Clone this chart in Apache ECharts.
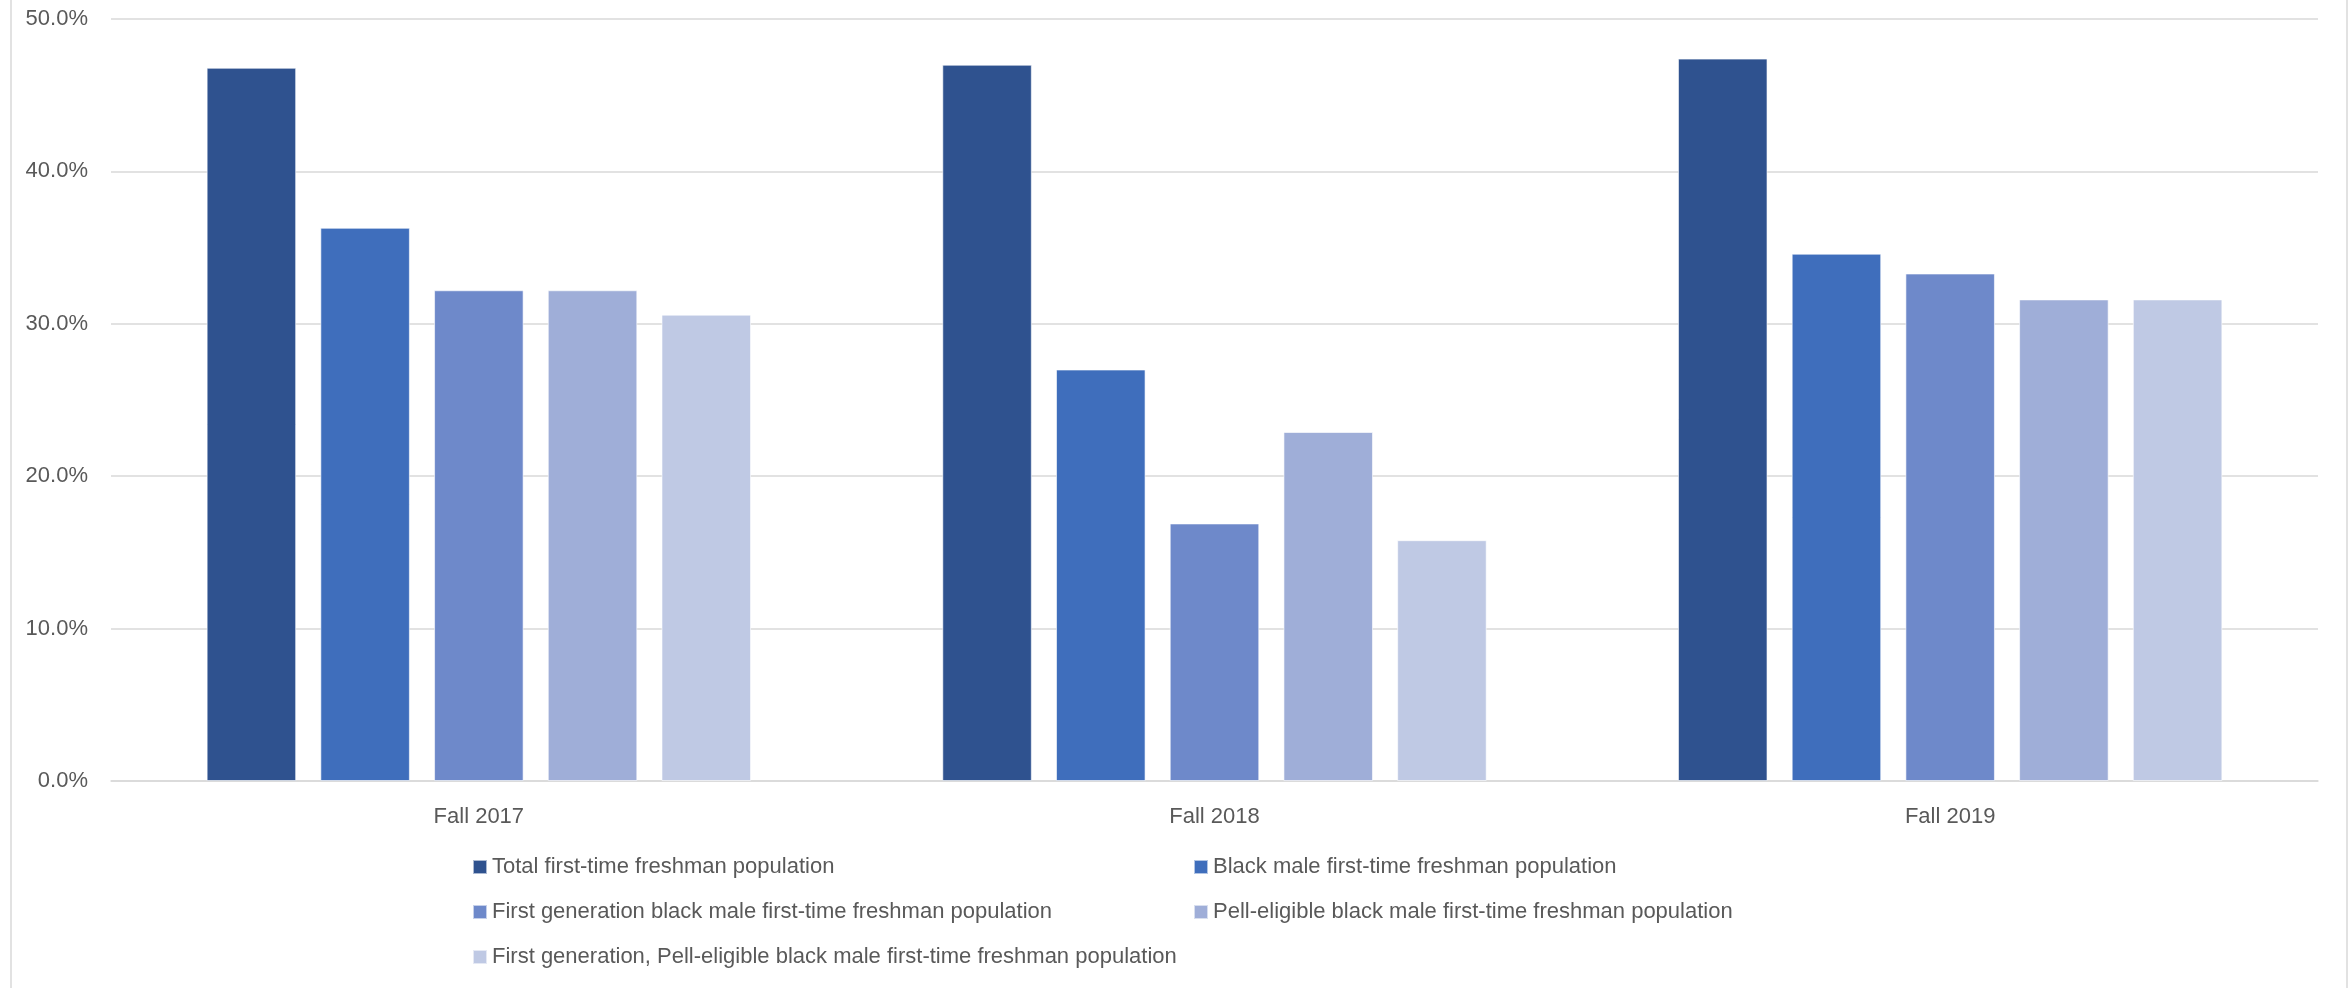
<!DOCTYPE html>
<html>
<head>
<meta charset="utf-8">
<style>
  html, body { margin: 0; padding: 0; background: #ffffff; }
  #chart { width: 2349px; height: 988px; }
</style>
<script src="https://cdn.jsdelivr.net/npm/echarts@6/dist/echarts.min.js"></script>
</head>
<body>
<div id="chart"></div>
<script>
// Terms shown along the x axis
const terms = ['Fall 2017', 'Fall 2018', 'Fall 2019'];

// Population groups (one bar series each)
const groupNames = [
  'Total first-time freshman population',
  'Black male first-time freshman population',
  'First generation black male first-time freshman population',
  'Pell-eligible black male first-time freshman population',
  'First generation, Pell-eligible black male first-time freshman population'
];

// Percentages per term, one array per group
const totalFreshman = [46.8, 47.0, 47.4];
const blackMale = [36.3, 27.0, 34.6];
const firstGenBlackMale = [32.2, 16.9, 33.3];
const pellBlackMale = [32.2, 22.9, 31.6];
const firstGenPellBlackMale = [30.6, 15.8, 31.6];

// Value axis ticks
const yMin = 0;
const yMax = 50;
const yStep = 10;

const groupValues = [totalFreshman, blackMale, firstGenBlackMale, pellBlackMale, firstGenPellBlackMale];
const groupColors = ['#2F528F', '#3F6EBC', '#6E89CA', '#9FAED8', '#BFC9E4'];

const FONT = '"Liberation Sans", Arial, sans-serif';
const TEXT_COLOR = '#595959';
const LINE_COLOR = '#D9D9D9';

const chart = echarts.init(document.getElementById('chart'), null, { renderer: 'canvas' });

const option = {
  backgroundColor: '#ffffff',
  animation: false,
  color: groupColors,
  textStyle: { fontFamily: FONT },
  graphic: [
    {
      type: 'rect',
      silent: true,
      shape: { x: 11, y: -20, width: 2336, height: 1030 },
      style: { fill: 'none', stroke: LINE_COLOR, lineWidth: 1.5 }
    }
  ],
  grid: { left: 111, right: 31, top: 19, bottom: 207, containLabel: false },
  xAxis: {
    type: 'category',
    data: terms,
    axisLine: { show: true, lineStyle: { color: LINE_COLOR, width: 1.5 } },
    axisTick: { show: false },
    axisLabel: { color: TEXT_COLOR, fontSize: 22, fontFamily: FONT, margin: 25 }
  },
  yAxis: {
    type: 'value',
    min: yMin,
    max: yMax,
    interval: yStep,
    axisLine: { show: false },
    axisTick: { show: false },
    splitLine: { show: true, lineStyle: { color: LINE_COLOR, width: 1.5 } },
    axisLabel: {
      color: TEXT_COLOR,
      fontSize: 22,
      fontFamily: FONT,
      margin: 23,
      formatter: v => v.toFixed(1) + '%'
    }
  },
  legend: {
    show: true,
    left: 467,
    top: 847,
    width: 1500,
    orient: 'horizontal',
    itemWidth: 14,
    itemHeight: 14,
    itemGap: 15,
    icon: 'rect',
    data: groupNames,
    textStyle: {
      color: TEXT_COLOR,
      fontSize: 22,
      fontFamily: FONT,
      width: 686,
      lineHeight: 30
    }
  },
  series: groupNames.map((name, i) => ({
    name: name,
    type: 'bar',
    data: groupValues[i],
    barGap: '27%',
    barCategoryGap: '26%',
    itemStyle: {
      color: groupColors[i],
      borderColor: 'rgba(255,255,255,0.6)',
      borderWidth: 1
    }
  }))
};

chart.setOption(option);
</script>
</body>
</html>
